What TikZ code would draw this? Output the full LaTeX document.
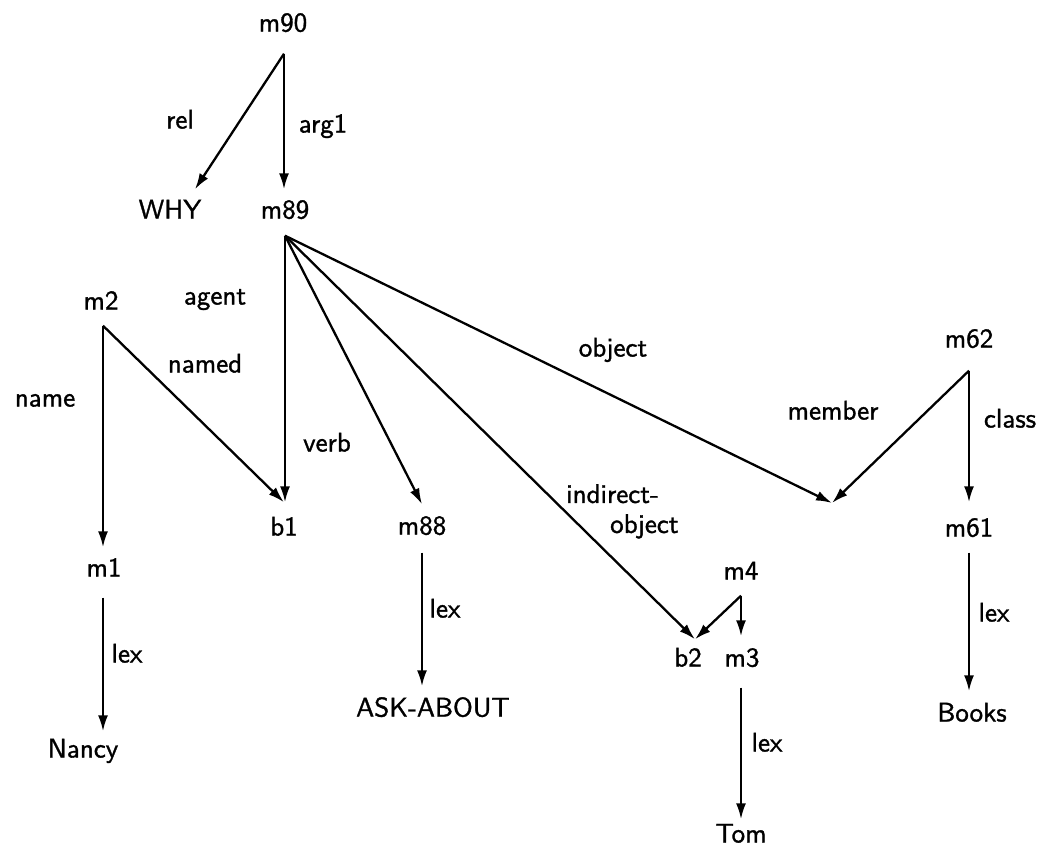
\documentclass[tikz,border=0pt]{standalone}
\usepackage{fontspec}
\usetikzlibrary{arrows.meta,calc}
\newfontfamily\netfont{lmsans10-regular.otf}[FakeBold=1.2]
\begin{document}
\begin{tikzpicture}[x=1pt,y=-1pt,
  txt/.style={font=\fontsize{27}{30}\selectfont\netfont, inner sep=0pt,
              text height=19pt, text depth=0pt, anchor=center},
  lbl/.style={txt},
  arc/.style={line width=2.3pt, -{Latex[length=16pt,width=10pt]}}]
  \useasboundingbox (0,0) rectangle (1042,849);

  % concept nodes
  \node[txt] (m90)   at (283,22)  {m90};
  \node[txt] (why)   at (170,209) {WHY};
  \node[txt] (m89)   at (285,209) {m89};
  \node[txt] (m2)    at (101,300) {m2};
  \node[txt] (b1)    at (284,526) {b1};
  \node[txt] (m88)   at (422,525) {m88};
  \node[txt] (m1)    at (104,567) {m1};
  \node[txt] (m62)   at (969,338) {m62};
  \node[txt] (m61)   at (969,527) {m61};
  \node[txt] (m4)    at (741,570) {m4};
  \node[txt] (b2)    at (688,657) {b2};
  \node[txt] (m3)    at (742,657) {m3};
  \node[txt] (nancy) at (83,748)  {Nancy};
  \node[txt] (ask)   at (433,707) {ASK-ABOUT};
  \node[txt] (books) at (972,712) {Books};
  \node[txt] (tom)   at (741,833) {Tom};
  \coordinate (obj) at (832,503);

  % arcs
  \draw[arc] ($(m90.south)+(1,22)$) -- ($(why.north)+(25,-10)$);
  \draw[arc] ($(m90.south)+(1,22)$) -- ($(m89.north)+(-1,-10)$);
  \draw[arc] ($(m89.south)+(0,17)$) -- ($(b1.north)+(1,-14)$);
  \draw[arc] ($(m89.south)+(0,17)$) -- ($(m88.north)+(0,-11)$);
  \draw[arc] ($(m89.south)+(0,17)$) -- ($(b2.north)+(7,-8)$);
  \draw[arc] ($(m89.south)+(0,17)$) -- (obj);
  \draw[arc] ($(m2.south)+(2,16)$) -- ($(b1.north)+(0,-14)$);
  \draw[arc] ($(m2.south)+(2,16)$) -- ($(m1.north)+(-1,-10)$);
  \draw[arc] ($(m62.south)+(0,23)$) -- (obj);
  \draw[arc] ($(m62.south)+(0,23)$) -- ($(m61.north)+(0,-15)$);
  \draw[arc] ($(m4.south)+(0,16)$) -- ($(b2.north)+(7,-8)$);
  \draw[arc] ($(m4.south)+(0,16)$) -- ($(m3.north)+(-1,-11)$);
  \draw[arc] ($(m1.south)+(-1,21)$) -- ($(nancy.north)+(20,-7)$);
  \draw[arc] ($(m88.south)+(0,18)$) -- ($(ask.north)+(-11,-11)$);
  \draw[arc] ($(m3.south)+(-1,21)$) -- ($(tom.north)+(0,-4)$);
  \draw[arc] ($(m61.south)+(0,16)$) -- ($(books.north)+(-3,-11)$);

  % arc labels
  \node[lbl] (lrel)    at (180,119) {rel};
  \node[lbl] (larg)    at (323,123) {arg1};
  \node[lbl] (lagent)  at (215,295) {agent};
  \node[lbl] (lname)   at (45,397)  {name};
  \node[lbl] (lnamed)  at (205,363) {named};
  \node[lbl] (lverb)   at (327,442) {verb};
  \node[lbl] (lobj)    at (613,347) {object};
  \node[lbl, align=left, text height=, text depth=, anchor=north west]
        (lind) at (566,484) {indirect-\\\hspace*{44pt}object};
  \node[lbl] (lmember) at (833,410) {member};
  \node[lbl] (lclass)  at (1010,418){class};
  \node[lbl] (llex1)   at (127,653) {lex};
  \node[lbl] (llex2)   at (445,608) {lex};
  \node[lbl] (llex3)   at (767,742) {lex};
  \node[lbl] (llex4)   at (994,612) {lex};
\end{tikzpicture}
\end{document}
